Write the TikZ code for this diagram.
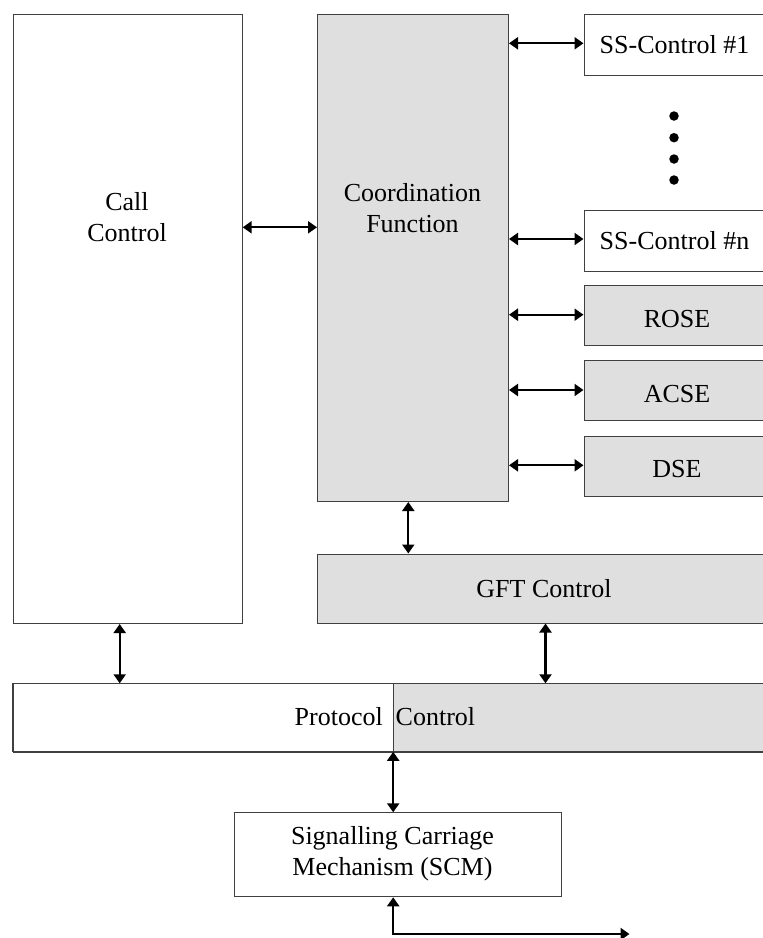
\documentclass[tikz,border=0pt]{standalone}
\usepackage{fontspec}
\setmainfont{Liberation Serif}
\usetikzlibrary{arrows.meta}
\definecolor{boxgray}{HTML}{DFDFDF}
\definecolor{edge}{HTML}{404040}
\tikzset{
  box/.style={draw=edge, line width=1pt, rectangle, inner sep=0pt, anchor=north west},
  wbox/.style={box, fill=white},
  gbox/.style={box, fill=boxgray},
  lbl/.style={inner sep=0pt, font=\fontsize{26}{31}\selectfont, align=center},
  arr/.style={line width=2.2pt, {Triangle[length=9pt,width=12pt]}-{Triangle[length=9pt,width=12pt]}},
  dot/.style={circle, fill=black, inner sep=0pt, minimum size=9.5pt}
}
\begin{document}
\begin{tikzpicture}[x=1pt,y=-1pt]
\useasboundingbox (0,0) rectangle (763,938);
\clip (0,0) rectangle (763,938);
% boxes
\node[wbox, minimum width=229pt, minimum height=609pt] (cc) at (12.7,14) {};
\node[gbox, minimum width=191pt, minimum height=487pt] (cf) at (317,14) {};
\node[wbox, minimum width=188pt, minimum height=61pt] (ss1) at (583.5,13.5) {};
\node[wbox, minimum width=188pt, minimum height=61pt] (ssn) at (583.5,209.5) {};
\node[gbox, minimum width=188pt, minimum height=60pt] (rose) at (583.5,285) {};
\node[gbox, minimum width=188pt, minimum height=60pt] (acse) at (583.5,360.3) {};
\node[gbox, minimum width=188pt, minimum height=60pt] (dse) at (583.5,435.5) {};
\node[gbox, minimum width=455pt, minimum height=69pt] (gft) at (317,553.5) {};
\node[wbox, minimum width=760pt, minimum height=68.5pt] (pc) at (12.7,683.3) {};
\fill[boxgray] (393.2,683.3) rectangle (775,751.8);
\draw[draw=edge, line width=1pt] (12.7,683.3) rectangle (775,751.8);
\draw[draw=edge, line width=1pt] (393.2,683.3) -- (393.2,751.8);
\coordinate (pcmid) at (393.2,751.8);
\node[wbox, minimum width=327pt, minimum height=84pt] (scm) at (233.6,812.3) {};
% labels
\node[lbl] (cctext) at (127,217) {Call\\Control};
\node[lbl] (cftext) at (412.5,208.5) {Coordination\\Function};
\node[lbl] (ss1text) at (674.5,45) {SS-Control \#1};
\node[lbl] (ssntext) at (674.5,240.5) {SS-Control \#n};
\node[lbl] (rosetext) at (677,319) {ROSE};
\node[lbl] (acsetext) at (677,394.5) {ACSE};
\node[lbl] (dsetext) at (677,469.5) {DSE};
\node[lbl] (gfttext) at (544,588.5) {GFT Control};
\node[lbl, anchor=east] (pctext1) at (383,717) {Protocol};
\node[lbl, anchor=west] (pctext2) at (395.5,717) {Control};
\node[lbl] (scmtext) at (392.5,854) {Signalling Carriage\\Mechanism (SCM)};
% dots
\node[dot] (d1) at (674,116) {};
\node[dot] (d2) at (674,137.7) {};
\node[dot] (d3) at (674,159) {};
\node[dot] (d4) at (674,180) {};
% connectors
\draw[arr] (cc.east |- 0,227.3) -- (cf.west |- 0,227.3);
\draw[arr] (cf.east |- 0,43.3) -- (ss1.west |- 0,43.3);
\draw[arr] (cf.east |- 0,239) -- (ssn.west |- 0,239);
\draw[arr] (cf.east |- 0,314.7) -- (rose.west |- 0,314.7);
\draw[arr] (cf.east |- 0,390) -- (acse.west |- 0,390);
\draw[arr] (cf.east |- 0,465.3) -- (dse.west |- 0,465.3);
\draw[arr] (cf.south -| 408.3,0) -- (gft.north -| 408.3,0);
\draw[arr] (cc.south -| 119.7,0) -- (pc.north -| 119.7,0);
\draw[arr] (gft.south -| 545.5,0) -- (pc.north -| 545.5,0);
\draw[arr] (pcmid) -- (scm.north -| pcmid);
\coordinate (outend) at (629.5,934);
\draw[arr] (scm.south -| pcmid) |- (outend);
\end{tikzpicture}
\end{document}
